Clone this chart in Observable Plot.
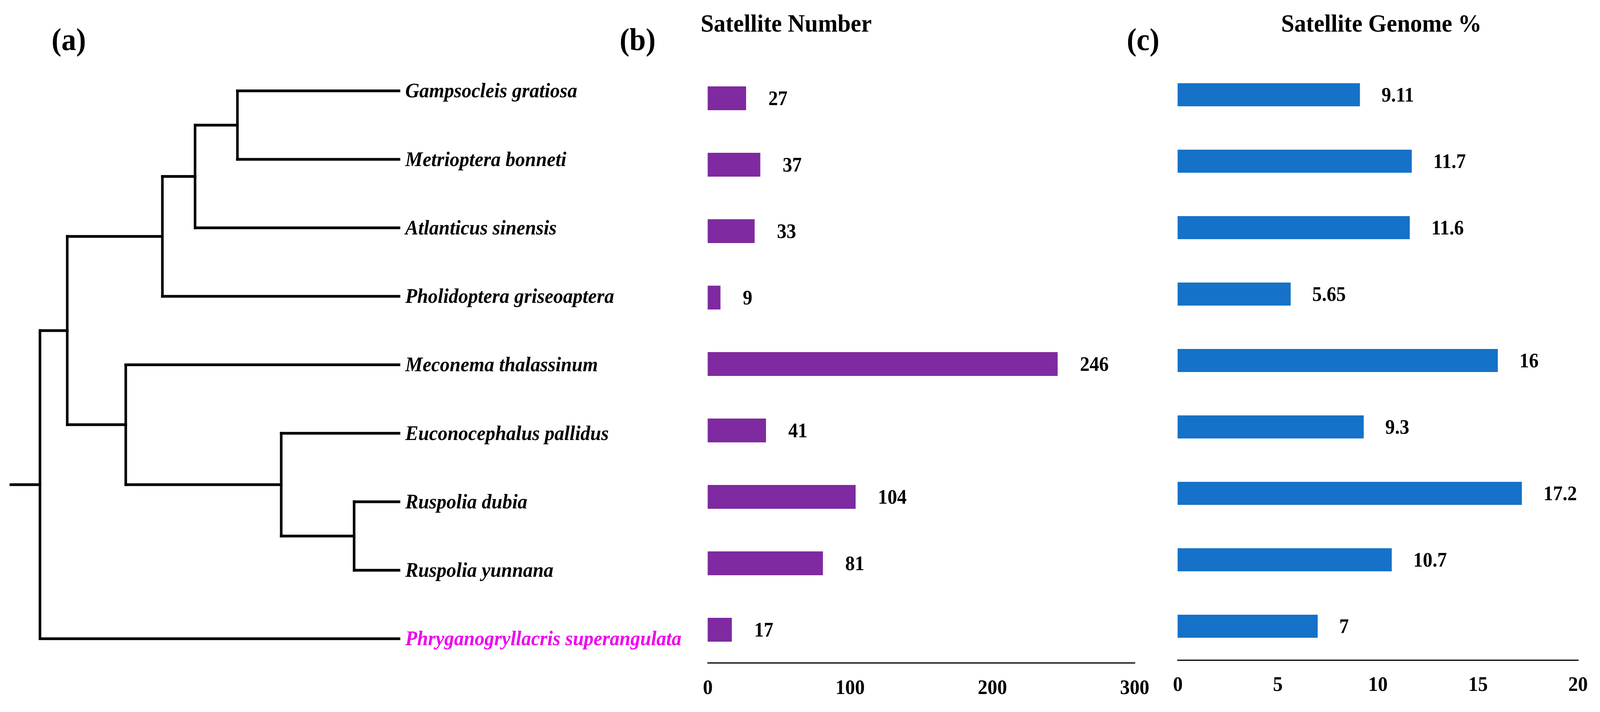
<!DOCTYPE html>
<html>
<head>
<meta charset="utf-8">
<script src="https://cdn.jsdelivr.net/npm/d3@7"></script>
<script src="https://cdn.jsdelivr.net/npm/@observablehq/plot@0.6"></script>
<style>
  html, body { margin: 0; background: #fff; overflow: hidden; }
  #fig { position: relative; width: 4341px; height: 1822px; background: #fff; overflow: hidden;
         font-family: "Liberation Serif", "Times New Roman", serif; font-weight: bold; color: #000;
         transform-origin: 0 0; }
  .lab { position: absolute; line-height: 1; white-space: nowrap; }
  .panel { position: absolute; top: 0; height: 1822px; }
</style>
</head>
<body>
<div id="fig">
  <div class="panel" id="pa" style="left:0px;width:1860px"></div>
  <div class="panel" id="pb" style="left:1800px;width:1400px"></div>
  <div class="panel" id="pc" style="left:3100px;width:1241px"></div>
  <div class="lab" style="left:140px;top:61px;font-size:80px">(a)</div>
  <div class="lab" style="left:1681px;top:61px;font-size:80px">(b)</div>
  <div class="lab" style="left:3057px;top:61px;font-size:80px">(c)</div>
  <div class="lab" style="left:1901px;top:28px;font-size:64px">Satellite Number</div>
  <div class="lab" style="left:3476px;top:28px;font-size:64px">Satellite Genome %</div>
</div>
<script>
// ---------------- data ----------------
const species = [
  "Gampsocleis gratiosa",
  "Metrioptera bonneti",
  "Atlanticus sinensis",
  "Pholidoptera griseoaptera",
  "Meconema thalassinum",
  "Euconocephalus pallidus",
  "Ruspolia dubia",
  "Ruspolia yunnana",
  "Phryganogryllacris superangulata"
];
const highlightSpecies = "Phryganogryllacris superangulata";
const satelliteNumber = [27, 37, 33, 9, 246, 41, 104, 81, 17];
const satelliteGenomePct = [9.11, 11.7, 11.6, 5.65, 16, 9.3, 17.2, 10.7, 7];
const numberTicks = [0, 100, 200, 300];
const pctTicks = [0, 5, 10, 15, 20];

// tree topology (cladogram) and node depths
const nodeIds = ["root", "n1", "n2", "n3", "n4", "n5", "n6", "n7", ...species];
const nodeParents = [null, "root", "n1", "n2", "n3", "n1", "n5", "n6",
  "n4", "n4", "n3", "n2", "n5", "n6", "n7", "n7", "root"];
const nodeDepths = [0, 0.076, 0.341, 0.432, 0.550, 0.239, 0.672, 0.875,
  1, 1, 1, 1, 1, 1, 1, 1, 1];
const rootStemDepth = -0.081;

// fit the 4341-wide figure into the actual browser viewport width
const fig = document.getElementById("fig");
const vw = Math.min(window.innerWidth || 4341, 4341);
fig.style.transform = `scaleX(${vw / 4341})`;

// ---------------- tree layout ----------------
const nodes = new Map(nodeIds.map((id, i) => [id, {id, parent: nodeParents[i], depth: nodeDepths[i], children: []}]));
for (const n of nodes.values()) if (n.parent) nodes.get(n.parent).children.push(n);
function layout(n) {
  if (!n.children.length) { n.y = species.indexOf(n.id); return n.y; }
  const ys = n.children.map(layout);
  n.y0 = Math.min(...ys); n.y1 = Math.max(...ys);
  n.y = (n.y0 + n.y1) / 2;
  return n.y;
}
const root = nodes.get("root");
layout(root);
const segments = [];
for (const n of nodes.values()) {
  if (n.parent) {
    const p = nodes.get(n.parent);
    segments.push({x1: p.depth, x2: n.depth, y1: n.y, y2: n.y});
  }
  if (n.children.length) segments.push({x1: n.depth, x2: n.depth, y1: n.y0, y2: n.y1});
}
segments.push({x1: rootStemDepth, x2: root.depth, y1: root.y, y2: root.y});
const leaves = species.map(s => nodes.get(s));

const font = "'Liberation Serif', 'Times New Roman', serif";

// ---------------- panel (a): tree ----------------
const treePlot = Plot.plot({
  width: 1860, height: 1822, margin: 0,
  x: {domain: [rootStemDepth, 1], range: [29, 1082], axis: null},
  y: {domain: [0, species.length - 1], range: [232, 1634], axis: null},
  style: {background: "transparent", fontFamily: font, maxWidth: "none", overflow: "visible"},
  marks: [
    Plot.link(segments, {x1: "x1", y1: "y1", x2: "x2", y2: "y2", stroke: "#000", strokeWidth: 7, strokeLinecap: "square"}),
    Plot.text(leaves.filter(d => d.id !== highlightSpecies), {x: "depth", y: "y", text: "id", dx: 17, textAnchor: "start",
      fontSize: 53, fontWeight: "bold", fontStyle: "italic", fill: "#000"}),
    Plot.text(leaves.filter(d => d.id === highlightSpecies), {x: "depth", y: "y", text: "id", dx: 17, textAnchor: "start",
      fontSize: 53, fontWeight: "bold", fontStyle: "italic", fill: "#EE00EE"})
  ]
});
document.getElementById("pa").appendChild(treePlot);

// ---------------- panel (b): satellite number ----------------
const rowsB = species.map((s, i) => ({name: s, value: satelliteNumber[i]}));
const plotB = Plot.plot({
  width: 1400, height: 1822,
  marginLeft: 120, marginRight: 122, marginTop: 0, marginBottom: 126,
  x: {domain: [0, 300], label: null},
  y: {domain: species, range: [111.4, 1751.6], padding: 0.6414, axis: null},
  style: {background: "transparent", fontFamily: font, fontWeight: "bold", maxWidth: "none", overflow: "visible"},
  marks: [
    Plot.barX(rowsB, {x: "value", y: "name", fill: "#7F2AA0"}),
    Plot.text(rowsB, {x: "value", y: "name", text: d => String(d.value), dx: 60, textAnchor: "start", fontSize: 52, fontWeight: "bold", fill: "#000"}),
    Plot.frame({anchor: "bottom", stroke: "#000", strokeWidth: 3}),
    Plot.axisX({ticks: numberTicks, tickSize: 0, tickPadding: 42, fontSize: 53, fontWeight: "bold", label: null, fill: "#000"})
  ]
});
document.getElementById("pb").appendChild(plotB);

// ---------------- panel (c): satellite genome % ----------------
const rowsC = species.map((s, i) => ({name: s, value: satelliteGenomePct[i]}));
const plotC = Plot.plot({
  width: 1241, height: 1822,
  marginLeft: 95, marginRight: 60, marginTop: 0, marginBottom: 133,
  x: {domain: [0, 20], label: null},
  y: {domain: species, range: [100.25, 1745.75], padding: 0.651, axis: null},
  style: {background: "transparent", fontFamily: font, fontWeight: "bold", maxWidth: "none", overflow: "visible"},
  marks: [
    Plot.barX(rowsC, {x: "value", y: "name", fill: "#1572C8"}),
    Plot.text(rowsC, {x: "value", y: "name", text: d => String(d.value), dx: 58, textAnchor: "start", fontSize: 52, fontWeight: "bold", fill: "#000"}),
    Plot.frame({anchor: "bottom", stroke: "#000", strokeWidth: 3}),
    Plot.axisX({ticks: pctTicks, tickSize: 0, tickPadding: 41, fontSize: 53, fontWeight: "bold", label: null, fill: "#000"})
  ]
});
document.getElementById("pc").appendChild(plotC);
</script>
</body>
</html>
